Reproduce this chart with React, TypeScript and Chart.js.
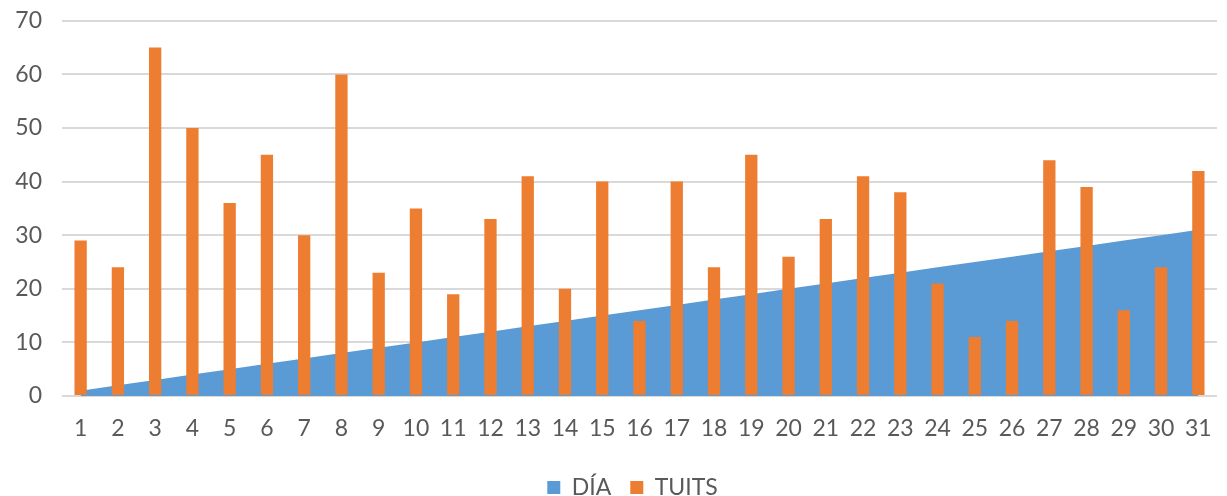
import React, { useEffect, useRef } from "react";
import { Chart, registerables } from "chart.js";

Chart.register(...registerables);

const days: string[] = Array.from({ length: 31 }, (_, i) => String(i + 1));
const diaValues: number[] = [1, 2, 3, 4, 5, 6, 7, 8, 9, 10, 11, 12, 13, 14, 15, 16, 17, 18, 19, 20, 21, 22, 23, 24, 25, 26, 27, 28, 29, 30, 31];
const tuitsValues: number[] = [29, 24, 65, 50, 36, 45, 30, 60, 23, 35, 19, 33, 41, 20, 40, 14, 40, 24, 45, 26, 33, 41, 38, 21, 11, 14, 44, 39, 16, 24, 42];
const seriesNames: string[] = ["DÍA", "TUITS"];

const FONT = "Lato";
const FS = 23;

const legendShift = {
  id: "legendShift",
  afterLayout(chart: any) {
    if (chart.legend) {
      chart.legend.left += 21;
      chart.legend.right += 21;
    }
  },
};

export default function App() {
  const ref = useRef<HTMLCanvasElement>(null);
  useEffect(() => {
    if (!ref.current) return;
    const chart = new Chart(ref.current, {
      type: "bar",
      data: {
        labels: days,
        datasets: [
          {
            type: "line",
            label: seriesNames[0],
            data: diaValues,
            backgroundColor: "#5B9BD5",
            borderColor: "#5B9BD5",
            borderWidth: 0,
            pointRadius: 0,
            fill: "origin",
            tension: 0,
            order: 1,
          } as any,
          {
            type: "bar",
            label: seriesNames[1],
            data: tuitsValues,
            backgroundColor: "#ED7D31",
            categoryPercentage: 1,
            barPercentage: 0.33,
            order: 0,
          },
        ],
      },
      plugins: [legendShift],
      options: {
        animation: false,
        responsive: false,
        maintainAspectRatio: false,
        layout: { padding: { left: 6, right: 10, top: 0, bottom: 0 } },
        plugins: {
          tooltip: { enabled: false },
          legend: {
            position: "bottom",
            labels: {
              usePointStyle: true,
              pointStyle: "rect",
              boxWidth: 13,
              boxHeight: 13,
              color: "#595959",
              font: { family: FONT, size: FS },
              padding: 19,
              sort: (a: any, b: any) => a.datasetIndex - b.datasetIndex,
            },
          },
        },
        scales: {
          x: {
            offset: true,
            grid: { display: false },
            border: { display: false },
            ticks: {
              color: "#595959",
              font: { family: FONT, size: FS },
              maxRotation: 0,
              autoSkip: false,
              padding: 11,
            },
            afterFit: (s: any) => {
              s.height = 61;
            },
          },
          y: {
            min: 0,
            max: 70,
            grid: { color: "#D9D9D9", lineWidth: 2, drawTicks: false },
            border: { display: false },
            ticks: {
              stepSize: 10,
              color: "#595959",
              font: { family: FONT, size: FS },
              padding: 20,
            },
            afterFit: (s: any) => {
              s.width = 56;
            },
          },
        },
      },
    });
    return () => chart.destroy();
  }, []);
  return (
    <div style={{ position: "fixed", left: 0, top: 0, width: 1227, height: 496, overflow: "hidden", background: "#fff" }}>
      <canvas ref={ref} width={1227} height={522} style={{ width: 1227, height: 522, display: "block", marginTop: -13 }} />
    </div>
  );
}
